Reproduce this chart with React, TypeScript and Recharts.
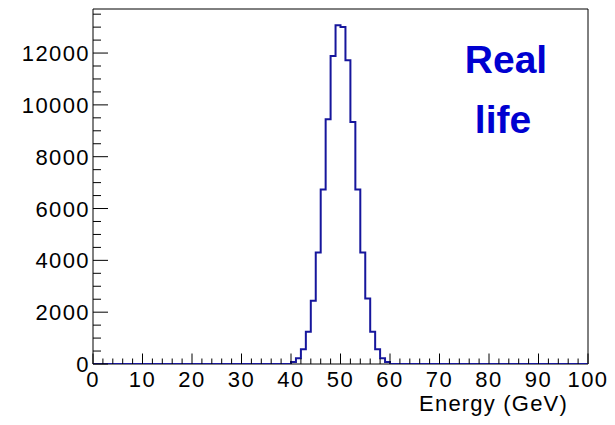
import React from 'react';
import { ComposedChart, Line, XAxis, YAxis, ReferenceArea } from 'recharts';

// Histogram bin contents, bins of 1 GeV from 0 to 100
const counts = [
  0, 0, 0, 0, 0, 0, 0, 0, 0, 0, // 0-9
  0, 0, 0, 0, 0, 0, 0, 0, 0, 0, // 10-19
  0, 0, 0, 0, 0, 0, 0, 0, 0, 0, // 20-29
  0, 0, 0, 0, 0, 0, 0, 0, 0, 0, // 30-39
  77, 220, 567, 1245, 2440, 4305, 6735, 9445, 11890, 13070, // 40-49
  13010, 11720, 9340, 6735, 4300, 2530, 1245, 567, 220, 77, // 50-59
  0, 0, 0, 0, 0, 0, 0, 0, 0, 0, // 60-69
  0, 0, 0, 0, 0, 0, 0, 0, 0, 0, // 70-79
  0, 0, 0, 0, 0, 0, 0, 0, 0, 0, // 80-89
  0, 0, 0, 0, 0, 0, 0, 0, 0, 0, // 90-99
];

const xTicks = [
  0, 2, 4, 6, 8, 10, 12, 14, 16, 18, 20, 22, 24, 26, 28, 30, 32, 34, 36, 38, 40,
  42, 44, 46, 48, 50, 52, 54, 56, 58, 60, 62, 64, 66, 68, 70, 72, 74, 76, 78, 80,
  82, 84, 86, 88, 90, 92, 94, 96, 98, 100,
];
const xLabels = [0, 10, 20, 30, 40, 50, 60, 70, 80, 90, 100];

const yTicks = [
  0, 500, 1000, 1500, 2000, 2500, 3000, 3500, 4000, 4500, 5000, 5500, 6000, 6500,
  7000, 7500, 8000, 8500, 9000, 9500, 10000, 10500, 11000, 11500, 12000, 12500,
  13000, 13500,
];
const yLabels = [0, 2000, 4000, 6000, 8000, 10000, 12000];

const xTitle = 'Energy (GeV)';
const annotation = ['Real', 'life'];

const data = [
  ...counts.map((c, i) => ({ energy: i, count: c })),
  { energy: 100, count: 0 },
];

const FONT = '"Liberation Sans", Arial, Helvetica, sans-serif';
const PLOT_BOTTOM = 364;
const PLOT_LEFT = 93;

const XTick = (props: any) => {
  const { x, payload } = props;
  const y = PLOT_BOTTOM;
  const v = payload.value;
  const major = xLabels.includes(v);
  return (
    <g>
      <line x1={x} x2={x} y1={y} y2={y - (major ? 10.5 : 5.5)} stroke="#000" strokeWidth={1} />
      {major && (
        <text
          x={x}
          y={y + 23}
          textAnchor="middle"
          fontFamily={FONT}
          fontSize={22}
          letterSpacing={1.4}
          fill="#000"
        >
          {v}
        </text>
      )}
    </g>
  );
};

const YTick = (props: any) => {
  const { y, payload } = props;
  const x = PLOT_LEFT;
  const v = payload.value;
  const major = yLabels.includes(v);
  return (
    <g>
      <line x1={x} x2={x + (major ? 15 : 8)} y1={y} y2={y} stroke="#000" strokeWidth={1} />
      {major && (
        <text
          x={x - 3}
          y={y + 8}
          textAnchor="end"
          fontFamily={FONT}
          fontSize={22}
          letterSpacing={1.4}
          fill="#000"
        >
          {v}
        </text>
      )}
    </g>
  );
};

export default function App() {
  return (
    <div style={{ position: 'absolute', left: 0, top: 0, width: 615, height: 425, background: '#fff' }}>
      <ComposedChart
        width={615}
        height={425}
        data={data}
        margin={{ top: 9, right: 27, bottom: 11, left: 13 }}
      >
        <XAxis
          dataKey="energy"
          type="number"
          domain={[0, 100]}
          ticks={xTicks}
          interval={0}
          tickSize={0}
          tickMargin={0}
          tickLine={false}
          tick={XTick}
          height={50}
          axisLine={false}
          allowDataOverflow
        />
        <YAxis
          type="number"
          domain={[0, 13700]}
          ticks={yTicks}
          interval={0}
          tickSize={0}
          tickMargin={0}
          tickLine={false}
          tick={YTick}
          width={80}
          axisLine={false}
          allowDataOverflow
        />
        <ReferenceArea x1={0} x2={100} y1={0} y2={13700} fill="none" stroke="#000" strokeWidth={1} />
        <Line
          dataKey="count"
          type="stepAfter"
          stroke="#16169c"
          strokeWidth={2}
          dot={false}
          activeDot={false}
          isAnimationActive={false}
        />
      </ComposedChart>
      <svg
        width={615}
        height={425}
        style={{ position: 'absolute', left: 0, top: 0, pointerEvents: 'none' }}
      >
        <text
          x={568}
          y={411}
          textAnchor="end"
          fontFamily={FONT}
          fontSize={22}
          letterSpacing={1.2}
          fill="#000"
        >
          {xTitle}
        </text>
        <text x={506} y={73} textAnchor="middle" fontFamily={FONT} fontWeight="bold" fontSize={39} fill="#0000d0">
          {annotation[0]}
        </text>
        <text x={503} y={133} textAnchor="middle" fontFamily={FONT} fontWeight="bold" fontSize={39} fill="#0000d0">
          {annotation[1]}
        </text>
      </svg>
    </div>
  );
}
